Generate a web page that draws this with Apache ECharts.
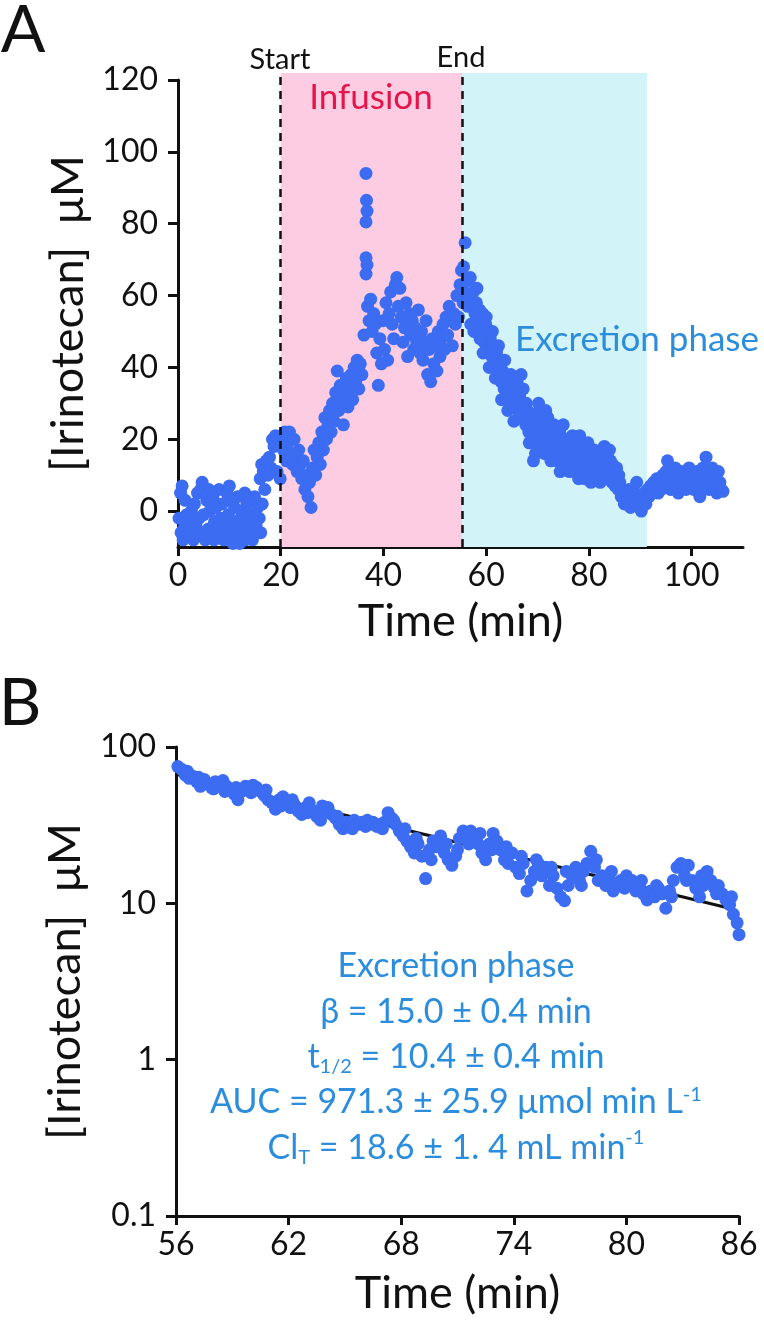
<!DOCTYPE html>
<html><head><meta charset="utf-8">
<script src="https://cdn.jsdelivr.net/npm/echarts@6/dist/echarts.min.js"></script>
<style>html,body{margin:0;padding:0;background:#fff}#c{width:764px;height:1320px}</style>
</head><body><div id="c"></div>
<script>
// ---------- Panel A data: [time (min), concentration (µM)] ----------
const pointsA = [
[0.2,-2],[0.5,5],[0.8,7],[1.1,-5],[1.4,3],[1.7,-1],[2.0,-7],[2.3,-3],[2.6,0],[2.9,-6],[3.2,2],[3.5,-4],[3.8,5],[4.1,-2],[4.4,6],[4.7,8],[5.0,-1],[5.3,-8],[5.6,3],[5.9,-5],[6.2,0],[6.5,-7],[6.8,4],[7.1,-3],[7.4,1],[7.7,-6],[8.0,6],[8.3,-2],[8.6,2],[8.9,-8],[9.2,-4],[9.5,5],[9.8,-1],[10.1,3],[10.4,-6],[10.7,-9],[11.0,1],[11.3,-3],[11.6,4],[11.9,-7],[12.2,-2],[12.5,0],[12.8,-5],[13.1,-8],[13.4,2],[13.7,-3],[14.0,3],[14.3,-6],[14.6,-1],[14.9,4],[15.2,-4],[15.5,1],[15.8,-2],[16.1,-6],[16.4,2],
[1.0,-8],[3.0,-8],[6.0,6],[8.5,-6],[10.0,7],[12.0,-9],[14.5,-8],[0.6,-6],[4.5,-6],[7.0,-8],[11.5,-5],[13.0,5],
[16.0,9],[16.3,13],[16.6,11],[16.9,6],[17.2,14],[17.5,10],[17.8,15],[18.1,12],[18.4,20],[18.7,18],[19.0,21],[19.3,11],[19.6,20],[19.9,9],
[20.2,21],[20.5,17],[20.8,22],[21.1,14],[21.4,19],[21.7,22],[22.0,16],[22.3,13],[22.6,20],[22.9,15],[23.2,11],[23.5,17],[23.8,13],[24.1,9],[24.4,14],[24.7,6],[25.0,10],[25.3,4],[25.6,8],[25.9,1],[26.2,12],[26.5,17],[26.8,10],[27.1,15],
[27.4,19],[27.7,13],[28.0,22],[28.3,17],[28.6,26],[28.9,20],[29.2,24],[29.5,28],[29.8,22],[30.1,30],[30.4,25],[30.7,33],[31.0,39],[31.3,28],[31.6,35],[31.9,30],[32.2,24],[32.5,33],[32.8,37],[33.1,29],[33.4,34],[33.7,38],[34.0,31],[34.3,40],[34.6,36],[34.9,42],[35.2,34],[35.5,41],[35.8,38],
[36.6,94],[36.7,86.5],[36.8,83.5],[36.6,80.5],[36.6,70.5],[36.8,68.5],[36.6,66],
[36.2,49],[36.9,57],[37.2,53],[37.5,59],[37.8,50],[38.1,55],[38.4,52],[38.7,44],[39.0,35],[39.3,48],[39.6,41],[39.9,53],[40.2,45],[40.5,58],[40.8,42],[41.1,55],[41.4,61],[41.7,52],[42.0,48],[42.3,63],[42.6,65],[42.9,57],[43.2,62],[43.5,54],[43.8,47],[44.1,51],[44.4,58],[44.7,43],[45.0,55],[45.3,49],[45.6,53],[45.9,45],[46.2,51],[46.5,47],[46.8,56],[47.1,44],[47.4,50],[47.7,42],[48.0,47],[48.3,53],[48.6,38],[48.9,45],[49.2,36],[49.5,48],[49.8,41],[50.1,46],[50.4,39],[50.7,50],[51.0,43],[51.3,48],[51.6,52],[51.9,45],[52.2,54],[52.5,49],[52.8,57],[53.1,53],[53.4,46],[53.7,55],[54.0,52],[54.3,60],[54.6,54],[54.9,63],[55.2,67],[55.5,58],
[55.3,62],[55.6,68],[55.9,74.7],[56.2,64],[56.5,60],[56.9,65],[57.2,57],[57.5,61],[57.8,55],[58.1,58],[58.4,53],[58.7,56],[59.0,50],[59.3,55],[59.6,47],[59.9,52],
[60.2,49],[60.5,45],[60.8,48],[61.1,43],[61.4,46],[61.7,41],[62.0,44],[62.3,38],[62.6,41],[62.9,36],[63.2,39],[63.5,34],[63.8,37],[64.1,32],[64.4,35],[64.7,30],[65.0,33],[65.3,29],[65.6,34],[65.9,31],[66.2,28],[66.5,32],[66.8,38],[67.1,27],[67.4,30],[67.7,24],[68.0,28],[68.3,22],[68.6,26],[68.9,20],[69.2,14],[69.5,24],[69.8,19],[70.1,27],[70.4,22],[70.7,18],[71.0,25],[71.3,21],[71.6,28],[71.9,19],[72.2,23],[72.5,17],[72.8,21],[73.1,15],[73.4,19],[73.7,14],[74.0,18],[74.3,22],[74.6,16],[74.9,20],[75.2,13],[75.5,17],[75.8,12],[76.1,16],[76.4,19],[76.7,14],[77.0,17],[77.3,11],[77.6,15],[77.9,13],[78.2,21],[78.5,14],[78.8,11],[79.1,16],[79.4,12],[79.7,15],[80.0,10],[80.3,13],[80.6,16],[80.9,11],[81.2,14],[81.5,9],[81.8,12],[82.1,15],[82.4,11],[82.7,17],[83.0,18],[83.3,13],[83.6,15],[83.9,10],[84.2,14],[84.5,8],[84.8,11],[85.1,7],[85.4,12],[85.7,6],
[56.4,57],[57.0,52],[57.6,50],[58.2,62],[58.8,48],[59.4,44],[60.0,54],[60.6,40],[61.2,50],[61.8,37],[62.4,46],[63.0,31],[63.6,42],[64.2,28],[64.8,38],[65.4,25],[66.0,36],[66.6,26],[67.2,34],[67.8,30],[68.4,19],[69.0,27],[69.6,16],[70.2,30],[70.8,25],[71.4,16],[72.0,26],[72.6,14],[73.2,24],[73.8,20],[74.4,11],[75.0,24],[75.6,20],[76.2,11],[76.8,21],[77.4,19],[78.0,9],[78.6,18],[79.2,9],[79.8,19],[80.4,8],[81.0,17],[81.6,13],[82.2,8],[82.8,13],[83.4,16],[84.0,17],[84.6,13],[85.2,9],[85.8,10],
[86.0,8],[86.3,4],[86.6,6],[86.9,2],[87.2,5],[87.5,3],[87.8,6],[88.1,1],[88.4,4],[88.7,2],[89.0,5],[89.3,8],[89.6,3],[89.9,1],[90.2,0],[90.5,3],[90.8,5],[91.1,2],[91.4,6],[91.7,4],[92.0,7],[92.3,5],[92.6,8],[92.9,6],[93.2,9],[93.5,5],[93.8,8],[94.1,6],[94.4,10],[94.7,7],[95.0,11],[95.3,14],[95.6,9],[95.9,6],[96.2,10],[96.5,7],[96.8,12],[97.1,8],[97.4,5],[97.7,9],[98.0,11],[98.3,7],[98.6,10],[98.9,6],[99.2,9],[99.5,12],[99.8,8],[100.1,10],[100.4,6],[100.7,9],[101.0,11],[101.3,7],[101.6,4],[101.9,9],[102.2,12],[102.5,8],[102.8,15],[103.1,10],[103.4,6],[103.7,9],[104.0,12],[104.3,7],[104.6,10],[104.9,5],[105.2,11],[105.5,8],[105.8,6],[106.1,5.5]
];
// phase boundaries (min): infusion start, infusion end, end of excretion shading
const phaseBounds = [20, 55.3, 91.3];
const xTicksA = [0, 20, 40, 60, 80, 100];
const yTicksA = [0, 20, 40, 60, 80, 100, 120];

// ---------- Panel B data (excretion phase, log scale) ----------
const pointsB = [
[56.1,75],[56.3,72],[56.5,66],[56.7,63],[56.9,65],[57.1,60],[57.3,56],[57.5,62],[57.7,58],[57.9,55],[58.1,60],[58.3,57],[58.5,61],[58.7,56],[58.9,53],[59.1,50],[59.3,46],[59.5,52],[59.7,56],[59.9,54],
[60.1,57],[60.3,55],[60.5,52],[60.7,49],[60.9,46],[61.1,44],[61.3,40],[61.5,46],[61.7,48],[61.9,44],[62.1,41],[62.3,43],[62.5,39],[62.7,37],[62.9,41],[63.1,44],[63.3,39],[63.5,36],[63.7,34],[63.9,38],
[64.1,41],[64.3,37],[64.5,35],[64.7,32],[64.9,30],[65.1,33],[65.3,31],[65.5,34],[65.7,32],[65.9,33],[66.1,31],[66.3,32],[66.5,33],[66.7,31],[66.9,32],[67.1,33],[67.3,38],[67.5,35],[67.7,32],[67.9,29],
[68.1,27],[68.3,25],[68.5,23],[68.7,21],[68.9,24],[69.1,20],[69.3,14.4],[69.5,22],[69.7,25],[69.9,23],[70.1,27],[70.3,21],[70.5,19],[70.7,17.5],[70.9,20],[71.1,26],[71.3,29],[71.5,27],[71.7,29],[71.9,26],
[72.1,24],[72.3,21],[72.5,19],[72.7,24],[72.9,28],[73.1,25],[73.3,22],[73.5,19],[73.7,18],[73.9,21],[74.1,17],[74.3,15.5],[74.5,18],[74.7,12],[74.9,14],[75.1,16],[75.3,18],[75.5,15],[75.7,17],[75.9,13],
[76.1,15],[76.3,12.5],[76.5,11],[76.7,10.4],[76.9,13],[77.1,15],[77.3,17],[77.5,14],[77.7,16],[77.9,18],[78.1,21.5],[78.3,17],[78.5,14],[78.7,15],[78.9,13],[79.1,14],[79.3,12],[79.5,13.5],[79.7,14],[79.9,12.5],
[80.1,13.5],[80.3,14],[80.5,12],[80.7,13],[80.9,11.5],[81.1,10.5],[81.3,12],[81.5,11],[81.7,12.5],[81.9,11.5],[82.1,9.3],[82.3,12],[82.5,14],[82.7,17],[82.9,18],[83.1,15],[83.3,17.5],[83.5,14],[83.7,12.5],[83.9,11],
[84.1,13],[84.3,16],[84.5,14],[84.7,12.5],[84.9,13],[85.1,11.5],[85.3,10.5],[85.5,9.8],[85.7,8.5],[85.9,7.5],[86.0,6.3],
[56.6,70],[57.2,64],[58.0,54],[58.6,52],[59.2,55],[60.0,51],[60.8,53],[61.6,42],[62.2,46],[63.0,38],[63.8,42],[64.6,36],[65.4,30],[66.2,34],[67.0,30],[67.6,34],[68.2,30],[68.8,26],[69.6,19],[70.4,24],[71.0,22],[71.6,24],[72.2,28],[72.8,22],[73.6,23],[74.4,20],[75.2,19],[76.0,17],[76.8,16],[77.6,13],[78.4,19],[79.2,16],[80.0,15],[80.8,14],[81.6,13],[82.4,11],[83.2,14],[84.0,15],[84.8,11.5],[85.6,11]
];
// mono-exponential fit line endpoints
const fitB = [[56, 67], [85.5, 9.3]];
const xTicksB = [56, 62, 68, 74, 80, 86];

const FONT = 'Lato, "Open Sans", "DejaVu Sans", sans-serif';
const INK = '#111';
const DOT = '#3b6cf2';
const BLUE_TXT = '#2b8ddb';

function axisBase(extra) {
  return Object.assign({
    splitLine: { show: false },
    axisLine: { onZero: false, lineStyle: { color: INK, width: 3 } },
    nameTextStyle: { color: INK, fontSize: 45, fontFamily: FONT }
  }, extra);
}
const tickLab = { color: INK, fontSize: 32, fontFamily: FONT };
const subStyle = { fontSize: 20, fontFamily: FONT, fill: BLUE_TXT, verticalAlign: 'bottom', lineHeight: 12 };
const supStyle = { fontSize: 20, fontFamily: FONT, fill: BLUE_TXT, verticalAlign: 'top', lineHeight: 22 };

const chart = echarts.init(document.getElementById('c'), null, { renderer: 'canvas' });
chart.setOption({
  animation: false,
  backgroundColor: '#fff',
  grid: [
    { left: 178, top: 80, width: 565, height: 467 },
    { left: 178, top: 73, width: 565, height: 474 },
    { left: 176, top: 747, width: 563, height: 469 }
  ],
  xAxis: [
    axisBase({ gridIndex: 0, type: 'value', min: 0, max: 110,
      axisTick: { length: 9, customValues: xTicksA, lineStyle: { color: INK, width: 3 } },
      axisLabel: Object.assign({ customValues: xTicksA, margin: 13 }, tickLab),
      name: 'Time (min)', nameLocation: 'middle', nameGap: 52 }),
    { gridIndex: 1, type: 'value', min: 0, max: 110, show: false },
    axisBase({ gridIndex: 2, type: 'value', min: 56, max: 86,
      axisTick: { length: 9, customValues: xTicksB, lineStyle: { color: INK, width: 3 } },
      axisLabel: Object.assign({ customValues: xTicksB, margin: 13 }, tickLab),
      name: 'Time (min)', nameLocation: 'middle', nameGap: 55 })
  ],
  yAxis: [
    axisBase({ gridIndex: 0, type: 'value', min: -10, max: 120,
      axisTick: { length: 10, customValues: yTicksA, lineStyle: { color: INK, width: 3 } },
      axisLabel: Object.assign({ customValues: yTicksA, margin: 20 }, tickLab),
      name: '[Irinotecan]  μM', nameLocation: 'middle', nameGap: 86, nameRotate: 90 }),
    { gridIndex: 1, type: 'value', min: 0, max: 1, show: false },
    axisBase({ gridIndex: 2, type: 'log', logBase: 10, min: 0.1, max: 100,
      axisTick: { length: 10, lineStyle: { color: INK, width: 3 } },
      axisLabel: Object.assign({ margin: 20,
        formatter: v => (v < 1 ? Number(v).toFixed(1) : String(Math.round(v))) }, tickLab),
      name: '[Irinotecan]  μM', nameLocation: 'middle', nameGap: 88, nameRotate: 90 })
  ],
  series: [
    { type: 'line', xAxisIndex: 1, yAxisIndex: 1, data: [], z: 0, silent: true,
      markArea: { silent: true, data: [
        [{ xAxis: phaseBounds[0], itemStyle: { color: '#fccde2' } }, { xAxis: phaseBounds[1] }],
        [{ xAxis: phaseBounds[1], itemStyle: { color: '#d2f3f8' } }, { xAxis: phaseBounds[2] }]
      ] } },
    { type: 'scatter', xAxisIndex: 0, yAxisIndex: 0, data: pointsA, symbolSize: 13,
      itemStyle: { color: DOT, opacity: 1 }, z: 3 },
    { type: 'line', xAxisIndex: 1, yAxisIndex: 1, data: [], z: 5, silent: true,
      markLine: { silent: true, symbol: 'none', label: { show: false },
        lineStyle: { color: INK, width: 2.5, type: [8, 6] },
        data: [{ xAxis: phaseBounds[0] }, { xAxis: phaseBounds[1] }] } },
    { type: 'line', xAxisIndex: 2, yAxisIndex: 2, data: fitB, symbol: 'none', z: 2,
      lineStyle: { color: INK, width: 3 } },
    { type: 'scatter', xAxisIndex: 2, yAxisIndex: 2, data: pointsB, symbolSize: 13,
      itemStyle: { color: DOT, opacity: 1 }, z: 3 }
  ],
  graphic: [
    { type: 'text', x: 23, y: 31, style: { text: 'A', font: '66px ' + FONT, fill: INK, align: 'center', verticalAlign: 'middle' } },
    { type: 'text', x: 20, y: 704, style: { text: 'B', font: '66px ' + FONT, fill: INK, align: 'center', verticalAlign: 'middle' } },
    { type: 'text', x: 280, y: 60, style: { text: 'Start', font: '29px ' + FONT, fill: INK, align: 'center', verticalAlign: 'middle' } },
    { type: 'text', x: 461, y: 58, style: { text: 'End', font: '29px ' + FONT, fill: INK, align: 'center', verticalAlign: 'middle' } },
    { type: 'text', x: 371, y: 98, z: 10, style: { text: 'Infusion', font: '35px ' + FONT, fill: '#e3164b', align: 'center', verticalAlign: 'middle' } },
    { type: 'text', x: 637, y: 340, z: 10, style: { text: 'Excretion phase', font: '35px ' + FONT, fill: BLUE_TXT, align: 'center', verticalAlign: 'middle' } },
    { type: 'text', x: 456, y: 966, z: 10, style: { text: 'Excretion phase', font: '34px ' + FONT, fill: BLUE_TXT, align: 'center', verticalAlign: 'middle' } },
    { type: 'text', x: 456, y: 1012, z: 10, style: { text: 'β = 15.0 ± 0.4 min', font: '34px ' + FONT, fill: BLUE_TXT, align: 'center', verticalAlign: 'middle' } },
    { type: 'text', x: 456, y: 1057, z: 10, style: { text: 't{sub|1/2} = 10.4 ± 0.4 min', font: '34px ' + FONT, lineHeight: 40, fill: BLUE_TXT, align: 'center', verticalAlign: 'middle',
        rich: { sub: subStyle } } },
    { type: 'text', x: 456, y: 1102, z: 10, style: { text: 'AUC = 971.3 ± 25.9 μmol min L{sup|-1}', font: '34px ' + FONT, fill: BLUE_TXT, align: 'center', verticalAlign: 'middle',
        rich: { sup: supStyle } } },
    { type: 'text', x: 456, y: 1148, z: 10, style: { text: 'Cl{sub|T} = 18.6 ± 1. 4 mL min{sup|-1}', font: '34px ' + FONT, lineHeight: 40, fill: BLUE_TXT, align: 'center', verticalAlign: 'middle',
        rich: { sub: subStyle, sup: supStyle } } }
  ]
});
</script>
</body></html>
